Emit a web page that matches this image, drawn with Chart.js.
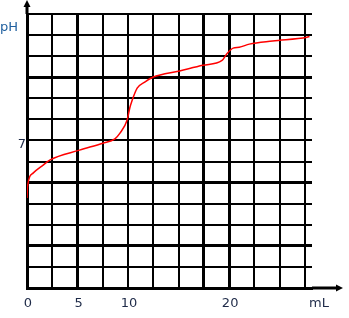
<!DOCTYPE html>
<html><head><meta charset="utf-8">
<script src="https://cdn.jsdelivr.net/npm/chart.js@4"></script>
<style>html,body{margin:0;padding:0;background:#fff}#wrap{width:349px;height:318px;position:relative}</style>
</head><body><div id="wrap"><canvas id="c"></canvas></div>
<script>
// Titration curve data (volume added in mL, pH)
const volumes  = [0, 0.05, 0.6, 1.6, 2.25, 5.2, 7.5, 8.7, 9.2, 9.9, 10.2, 10.35, 10.9, 11.65, 12.45, 15.1, 17.4, 19.3, 19.8, 20.4, 21.0, 22.0, 24.3, 27.7, 27.95];
const phValues = [4.27, 4.8, 5.45, 5.83, 6.07, 6.54, 6.87, 7.08, 7.35, 7.96, 8.6, 8.83, 9.48, 9.77, 10.0, 10.3, 10.57, 10.8, 11.13, 11.38, 11.42, 11.57, 11.72, 11.9, 11.93];

// Axis ticks / labels
const xGridValues = [0, 2.5, 5, 7.5, 10, 12.5, 15, 17.5, 20, 22.5, 25, 27.5];
const xTickLabels = {0: '0', 5: '5', 10: '10', 20: '20'};
const xUnitValue = 28.8;
const xUnitLabel = 'mL';
const yGridValues = [0,1,2,3,4,5,6,7,8,9,10,11,12,13];
const yTickLabels = {7: '7'};
const yUnitLabel = 'pH';
const xThick = [5, 17.5, 20];
const yThick = [10, 5, 2];

const labelFont = {family: 'DejaVu Sans', size: 13};
const labelColor = '#1e2a48';

const arrowPlugin = {
  id: 'axisArrows',
  afterDraw(chart) {
    const {ctx, chartArea} = chart;
    const x0 = chartArea.left, y0 = chartArea.bottom;
    ctx.save();
    ctx.strokeStyle = '#000';
    ctx.fillStyle = '#000';
    ctx.lineWidth = 3;
    ctx.beginPath();
    ctx.moveTo(x0, chartArea.top);
    ctx.lineTo(x0, 5);
    ctx.moveTo(chartArea.right, y0);
    ctx.lineTo(338, y0);
    ctx.stroke();
    ctx.beginPath();
    ctx.moveTo(x0, 0); ctx.lineTo(x0 - 3.5, 7); ctx.lineTo(x0 + 3.5, 7); ctx.closePath(); ctx.fill();
    ctx.beginPath();
    ctx.moveTo(343, y0); ctx.lineTo(336, y0 - 3.5); ctx.lineTo(336, y0 + 3.5); ctx.closePath(); ctx.fill();
    ctx.font = '13px "DejaVu Sans"';
    ctx.fillStyle = '#1f5f9f';
    ctx.textAlign = 'left';
    ctx.textBaseline = 'middle';
    ctx.fillText(yUnitLabel, 0, 28);
    ctx.restore();
  }
};

const isIn = (arr, v) => arr.some(a => Math.abs(a - v) < 1e-6);

new Chart(document.getElementById('c'), {
  type: 'line',
  data: {
    datasets: [{
      data: volumes.map((v, i) => ({x: v, y: phValues[i]})),
      borderColor: '#ff0000',
      borderWidth: 1.5,
      pointRadius: 0,
      cubicInterpolationMode: 'monotone',
      fill: false
    }]
  },
  options: {
    responsive: true,
    maintainAspectRatio: false,
    animation: false,
    layout: {padding: {top: 14, right: 37, left: 0, bottom: 0}},
    plugins: {legend: {display: false}, tooltip: {enabled: false}},
    scales: {
      x: {
        type: 'linear', min: 0, max: 28.2,
        afterBuildTicks: s => { s.ticks = xGridValues.concat([xUnitValue]).map(v => ({value: v})); },
        afterFit: s => { s.height = 30; },
        border: {display: true, color: '#000', width: 3},
        grid: {
          drawTicks: false,
          color: c => (c.tick && Math.abs(c.tick.value - xUnitValue) < 1e-6) ? 'rgba(0,0,0,0)' : '#000',
          lineWidth: c => (c.tick && isIn(xThick, c.tick.value)) ? 3 : 2
        },
        ticks: {
          autoSkip: false, maxRotation: 0, padding: 8, labelOffset: 1,
          font: labelFont, color: labelColor,
          callback: v => Math.abs(v - xUnitValue) < 1e-6 ? xUnitLabel : (xTickLabels[v] ?? '')
        }
      },
      y: {
        type: 'linear', min: 0, max: 13,
        afterBuildTicks: s => { s.ticks = yGridValues.map(v => ({value: v})); },
        afterFit: s => { s.width = 27; },
        border: {display: true, color: '#000', width: 3},
        grid: {
          drawTicks: false,
          color: '#000',
          lineWidth: c => (c.tick && isIn(yThick, c.tick.value)) ? 3 : 2
        },
        ticks: {
          autoSkip: false, padding: 1, labelOffset: 4,
          font: labelFont, color: labelColor,
          callback: v => yTickLabels[v] ?? ''
        }
      }
    }
  },
  plugins: [arrowPlugin]
});
</script>
</body></html>
